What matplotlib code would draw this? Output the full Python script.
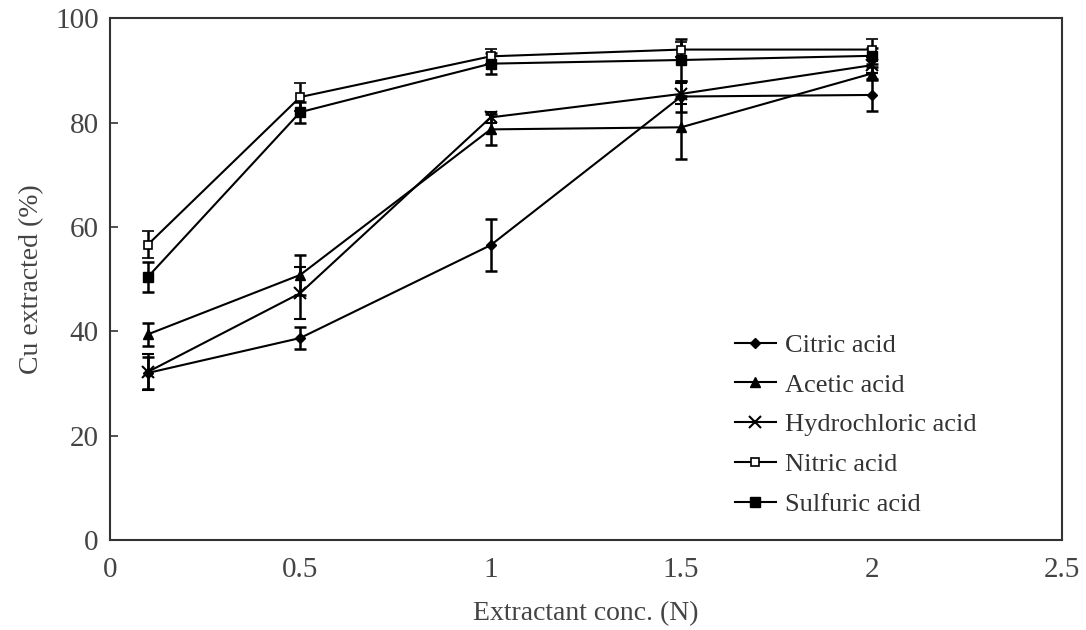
import matplotlib
matplotlib.use('Agg')
import matplotlib.pyplot as plt

plt.rcParams['font.family'] = ['Liberation Serif', 'DejaVu Serif']

# extractant concentration (N)
conc = [0.1, 0.5, 1.0, 1.5, 2.0]

# Cu extracted (%) and error bars
citric = [32.0, 38.7, 56.5, 85.0, 85.3]
citric_err = [3.0, 2.1, 5.0, 3.0, 3.0]
acetic = [39.4, 50.8, 78.7, 79.1, 89.4]
acetic_err = [2.2, 3.8, 3.0, 6.0, 1.2]
hcl = [32.2, 47.3, 81.0, 85.5, 91.0]
hcl_err = [3.5, 5.0, 1.0, 2.0, 1.5]
nitric = [56.6, 84.9, 92.7, 94.0, 94.0]
nitric_err = [2.6, 2.6, 1.5, 1.5, 2.0]
sulfuric = [50.4, 82.0, 91.3, 92.0, 92.8]
sulfuric_err = [2.8, 2.0, 2.0, 4.0, 1.5]

fig = plt.figure(figsize=(10.86, 6.3), dpi=100)
ax = fig.add_axes([0.101, 0.143, 0.877, 0.828])

kw = dict(color='black', ecolor='black', lw=1.5, elinewidth=1.8, capsize=4, capthick=1.8)
series = [
    (citric, citric_err, 'Citric acid', dict(marker='D', ms=5)),
    (acetic, acetic_err, 'Acetic acid', dict(marker='^', ms=7)),
    (hcl, hcl_err, 'Hydrochloric acid', dict(marker='x', ms=8, mew=1.5)),
    (nitric, nitric_err, 'Nitric acid', dict(marker='s', ms=6, mfc='white', mew=1.2)),
    (sulfuric, sulfuric_err, 'Sulfuric acid', dict(marker='s', ms=7)),
]
handles = []
for y, err, name, mk in series:
    c = ax.errorbar(conc, y, yerr=err, label=name, **mk, **kw)
    handles.append(c[0])

ax.set_xlim(0, 2.5)
ax.set_ylim(0, 100)
ax.set_xticks([0, 0.5, 1, 1.5, 2, 2.5])
ax.set_xticklabels(['0', '0.5', '1', '1.5', '2', '2.5'])
ax.set_yticks([0, 20, 40, 60, 80, 100])
ax.tick_params(direction='in', labelsize=21, length=6, width=1.2, colors='#333333',
               labelcolor='#444444', pad=8)
ax.tick_params(axis='x', pad=12, length=0)
for s in ax.spines.values():
    s.set_linewidth(1.5)
    s.set_color('#333333')

ax.set_xlabel('Extractant conc. (N)', fontsize=20, color='#444444', labelpad=13)
ax.set_ylabel('Cu extracted (%)', fontsize=20, color='#444444', labelpad=8)

ax.legend(handles, [s[2] for s in series], loc='lower right', bbox_to_anchor=(0.935, 0.0),
          frameon=False, fontsize=19, handlelength=1.55, handletextpad=0.35,
          labelspacing=0.62, labelcolor='#333333')

fig.savefig('out.png', dpi=100)
